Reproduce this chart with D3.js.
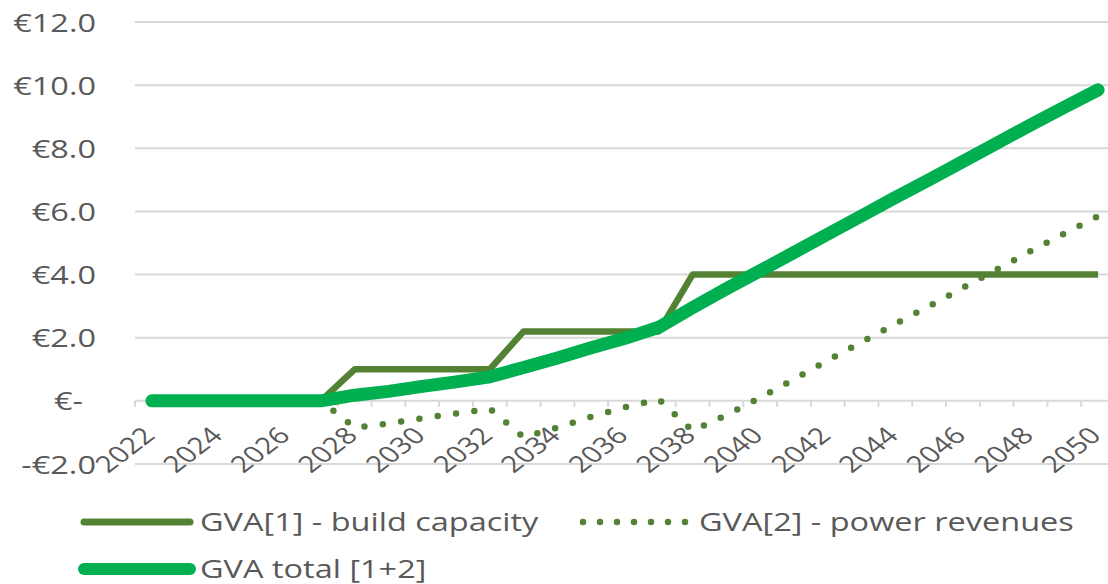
<!DOCTYPE html>
<html lang="en">
<head>
    <meta charset="UTF-8">
    <title>GVA</title>
    <script src="https://d3js.org/d3.v7.min.js"></script>
    <style>
        body { margin: 0; background: #fff; }
        text { font-family: 'Open Sans', sans-serif; fill: #595959; }
    </style>
</head>
<body>
    <div class="canvas"></div>
    <script>
        const years = [2022, 2023, 2024, 2025, 2026, 2027, 2028, 2029, 2030, 2031,
                       2032, 2033, 2034, 2035, 2036, 2037, 2038, 2039, 2040, 2041,
                       2042, 2043, 2044, 2045, 2046, 2047, 2048, 2049, 2050]
        const buildCapacity = [0, 0, 0, 0, 0, 0, 1.0, 1.0, 1.0, 1.0,
                               1.0, 2.2, 2.2, 2.2, 2.2, 2.2, 4.0, 4.0, 4.0, 4.0,
                               4.0, 4.0, 4.0, 4.0, 4.0, 4.0, 4.0, 4.0, 4.0]
        const powerRevenues = [0, 0, 0, 0, 0, 0, -0.85, -0.72, -0.55, -0.4,
                               -0.25, -1.15, -0.85, -0.5, -0.2, 0.05, -0.95, -0.45, 0.1, 0.68,
                               1.28, 1.86, 2.44, 3.0, 3.58, 4.16, 4.74, 5.3, 5.85]
        const gvaTotal = [0, 0, 0, 0, 0, 0, 0.18, 0.3, 0.46, 0.6,
                          0.76, 1.06, 1.36, 1.68, 1.98, 2.33, 2.95, 3.55, 4.12, 4.7,
                          5.28, 5.86, 6.44, 7.0, 7.58, 8.16, 8.74, 9.3, 9.85]
        const yTicks = [-2, 0, 2, 4, 6, 8, 10, 12]
        const yTickLabels = ['-€2.0', '€-', '€2.0', '€4.0', '€6.0', '€8.0', '€10.0', '€12.0']
        const xTickLabels = [2022, 2024, 2026, 2028, 2030, 2032, 2034, 2036, 2038, 2040,
                             2042, 2044, 2046, 2048, 2050]
        const seriesNames = ['GVA[1] - build capacity', 'GVA[2] - power revenues', 'GVA total [1+2]']

        const width = 1108
        const height = 584
        const sx = 1.3 // the picture is stretched sideways, text too

        const svg = d3.select('.canvas')
                    .append('svg')
                    .attr('width', width)
                    .attr('height', height)

        const x = d3.scalePoint()
                    .domain(years)
                    .range([135, 1115])
                    .padding(0.5)

        const y = d3.scaleLinear()
                    .domain([-2, 12])
                    .range([464, 22])

        // gridlines
        svg.append('g')
            .selectAll('line')
            .data(yTicks)
            .enter()
            .append('line')
            .attr('x1', 135)
            .attr('x2', 1115)
            .attr('y1', d => y(d))
            .attr('y2', d => y(d))
            .attr('stroke', '#d9d9d9')
            .attr('stroke-width', 2)

        // small ticks between categories on the zero line
        const step = x.step()
        svg.append('g')
            .selectAll('line')
            .data(years)
            .enter()
            .append('line')
            .attr('x1', d => x(d) - step / 2)
            .attr('x2', d => x(d) - step / 2)
            .attr('y1', y(0))
            .attr('y2', y(0) + 6)
            .attr('stroke', '#d9d9d9')
            .attr('stroke-width', 2)

        const yAxis = d3.axisLeft(y)
                        .tickValues(yTicks)
                        .tickSize(0)
                        .tickFormat(d => yTickLabels[yTicks.indexOf(d)])
        const yAxisG = svg.append('g')
                        .attr('transform', 'translate(96, 0)')
                        .call(yAxis)
        yAxisG.select('.domain').remove()
        yAxisG.selectAll('text')
            .attr('x', 0)
            .attr('dy', '0.36em')
            .attr('text-anchor', 'end')
            .style('font-size', '25px')
            .style('fill', '#595959')
            .attr('transform', d => `translate(${d === 0 ? -13 : 0}, 0) scale(${sx}, 1)`)

        const xAxis = d3.axisBottom(x)
                        .tickValues(xTickLabels)
                        .tickSize(0)
        const xAxisG = svg.append('g')
                        .attr('transform', `translate(0, ${y(0)})`)
                        .call(xAxis)
        xAxisG.select('.domain').remove()
        xAxisG.selectAll('text')
            .attr('x', null)
            .attr('y', null)
            .attr('dy', null)
            .attr('text-anchor', 'end')
            .style('font-size', '23px')
            .style('fill', '#595959')
            .attr('transform', `translate(4, 36) scale(${sx}, 1) rotate(-45)`)

        const line = d3.line()
                        .x((d, i) => x(years[i]))
                        .y(d => y(d))

        svg.append('path')
            .attr('fill', 'none')
            .attr('stroke', '#548235')
            .attr('stroke-width', 6.5)
            .attr('stroke-linejoin', 'round')
            .attr('d', line(buildCapacity))

        svg.append('path')
            .attr('fill', 'none')
            .attr('stroke', '#548235')
            .attr('stroke-width', 6.5)
            .attr('stroke-linecap', 'round')
            .attr('stroke-dasharray', '0 18.5')
            .attr('d', line(powerRevenues))

        svg.append('path')
            .attr('fill', 'none')
            .attr('stroke', '#00b050')
            .attr('stroke-width', 13)
            .attr('stroke-linecap', 'round')
            .attr('stroke-linejoin', 'round')
            .attr('d', line(gvaTotal))

        // legend
        const legend = svg.append('g')
        const items = [
            {name: seriesNames[0], lx: 84, ly: 522, color: '#548235', w: 7, dash: null},
            {name: seriesNames[1], lx: 583, ly: 522, color: '#548235', w: 6.5, dash: '0 17'},
            {name: seriesNames[2], lx: 84, ly: 569, color: '#00b050', w: 12, dash: null}
        ]
        items.forEach(item => {
            legend.append('line')
                .attr('x1', item.lx)
                .attr('x2', item.lx + 106)
                .attr('y1', item.ly)
                .attr('y2', item.ly)
                .attr('stroke', item.color)
                .attr('stroke-width', item.w)
                .attr('stroke-linecap', 'round')
                .attr('stroke-dasharray', item.dash)
            legend.append('text')
                .attr('transform', `translate(${item.lx + 116}, ${item.ly + 8.5}) scale(${sx}, 1)`)
                .style('font-size', '25px')
                .text(item.name)
        })
    </script>
</body>
</html>
